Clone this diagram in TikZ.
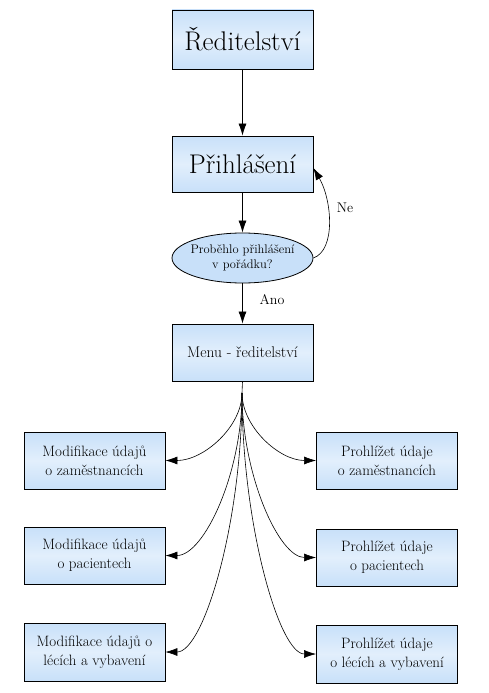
\documentclass[tikz,border=0pt]{standalone}
\usetikzlibrary{arrows.meta,shapes.geometric,calc}
\definecolor{boxblue}{RGB}{200,224,249}
\definecolor{boxlight}{RGB}{226,239,252}
\tikzset{
  box/.style={draw=black, line width=0.8pt, top color=boxblue, bottom color=boxblue, middle color=boxlight, minimum width=141pt, inner sep=0pt, align=center},
  conn/.style={line width=0.6pt, -{Latex[length=12pt,width=8pt]}},
  big/.style={font=\fontsize{27}{30}\selectfont},
  small/.style={font=\fontsize{15}{19}\selectfont},
  lbl/.style={font=\fontsize{14}{16}\selectfont},
}
\begin{document}
\begin{tikzpicture}[x=1pt,y=-1pt]
\useasboundingbox (0,0) rectangle (488,693);
\node[box, minimum height=59pt, big] (red) at (242.5,39.5) {Ředitelství};
\node[box, minimum height=56pt, big] (pri) at (242.5,164) {Přihlášení};
\node[draw=black, line width=0.8pt, ellipse, fill=boxblue, minimum width=141pt, minimum height=50pt, inner xsep=-14pt, inner ysep=0pt, align=center, font=\fontsize{12.5}{15}\selectfont] (ok) at (242.5,258) {Proběhlo přihlášení\\v pořádku?};
\node[box, minimum height=57pt, font=\fontsize{15.5}{18}\selectfont] (menu) at (242.5,352.5) {Menu - ředitelství};

\node[box, minimum height=57pt, small] (m1) at (94.5,460.5) {Modifikace údajů\\o zaměstnancích};
\node[box, minimum height=57pt, small] (m2) at (94.5,555.5) {Modifikace údajů\\o pacientech};
\node[box, minimum height=58pt, small] (m3) at (94.5,652) {Modifikace údajů o\\lécích a vybavení};
\node[box, minimum height=57pt, small] (p1) at (387,460.5) {Prohlížet údaje\\o zaměstnancích};
\node[box, minimum height=57pt, small] (p2) at (387,557.5) {Prohlížet údaje\\o pacientech};
\node[box, minimum height=58pt, small] (p3) at (387,654) {Prohlížet údaje\\o lécích a vybavení};

\node[lbl] (ne) at (345,208) {Ne};
\node[lbl] (ano) at (272,300) {Ano};

\draw[conn] (red) -- (pri);
\draw[conn] (pri) -- (ok);
\draw[conn] (ok) -- (menu);
\draw[conn] (ok.east) .. controls (336,250) and (332,200) .. (pri.east |- 0,168);

\coordinate (fan) at (242,393);
\draw[line width=0.6pt] (menu.south) -- (fan);
\foreach \t/\a in {m1/east,m2/east,m3/east,p1/west,p2/west,p3/west}{
  \draw[conn] (fan) .. controls ($(fan)!0.5!(fan|-\t.\a)$) and ($(\t.\a)!0.5!(fan|-\t.\a)$) .. (\t.\a);
}
\end{tikzpicture}
\end{document}
